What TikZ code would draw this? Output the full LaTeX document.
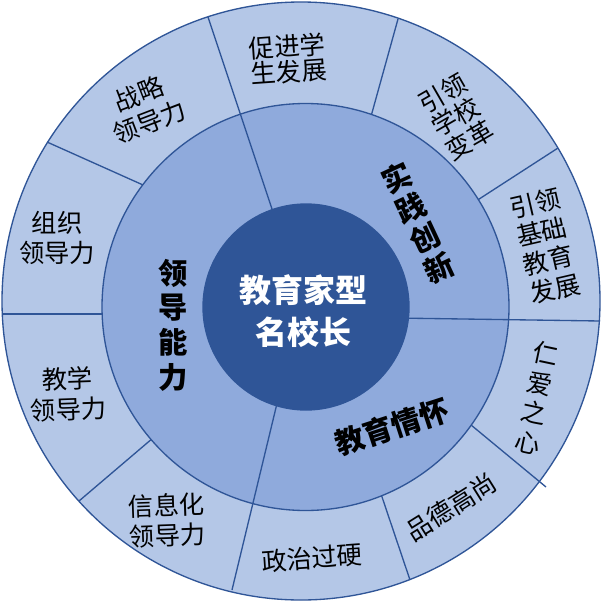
\documentclass[tikz,border=0pt]{standalone}
\usepackage{fontspec}
\usepackage{xcolor}
\usepackage{tikz}
\newfontfamily\cjk{Noto Sans CJK SC}
\definecolor{ringout}{HTML}{B4C7E7}
\definecolor{ringmid}{HTML}{8FAADC}
\definecolor{ringin}{HTML}{2F5597}
\definecolor{edgeblue}{HTML}{2F5597}

\begin{document}
\begin{tikzpicture}[x=0.75pt,y=0.75pt,yscale=-1,xscale=1,
  divline/.style={draw=edgeblue, line width=1pt},
  outtext/.style={inner sep=0pt, align=center, font=\cjk\fontsize{19}{22.5}\selectfont},
  midtext/.style={inner sep=0pt, align=center, font=\cjk\bfseries\fontsize{22}{25}\selectfont},
  centertext/.style={inner sep=0pt, align=center, text=white, font=\cjk\bfseries\fontsize{24}{31.5}\selectfont}]
\useasboundingbox (0,0) rectangle (602,603);

%Outer Ring
\draw [divline, fill=ringout] (301,301) circle (299);

%Straight Lines (outer ring only)
\draw [divline] (398,19) -- (370,120);
\draw [divline] (558,148) -- (473,203);
\draw [divline] (546,487) -- (465,420);
\draw [divline] (410,580) -- (379,488);
\draw [divline] (79,501) -- (160,432);
\draw [divline] (2,314) -- (114,314);
\draw [divline] (47,142) -- (152,189);

%Middle Ring
\draw [divline, fill=ringmid] (305.5,307) circle (203.5);

%Straight Lines (both rings)
\draw [divline] (208,17) -- (275,218);
\draw [divline] (600,321) -- (395,318);
\draw [divline] (232,590) -- (280,391);

%Inner Circle
\draw [divline, fill=ringin] (306,307) circle (103);

% Text Node
\node [outtext, rotate=4, font=\cjk\fontsize{19}{19}\selectfont] (cujin) at (288,59) {促进学\\生发展};
% Text Node
\node [outtext, rotate=30, font=\cjk\fontsize{19}{20.5}\selectfont] (bianhua) at (456,117) {引领\\学校\\变革};
% Text Node
\node [outtext, rotate=13, font=\cjk\fontsize{19}{22}\selectfont] (jichu) at (545,246) {引领\\基础\\教育\\发展};
% Text Node
\node [outtext, rotate=-12] (renai) at (537,398) {仁\\爱\\之\\心};
% Text Node
\node [outtext, rotate=32] (pinde) at (451,507) {品德高尚};
% Text Node
\node [outtext, rotate=4] (zhengzhi) at (312,558) {政治过硬};
% Text Node
\node [outtext, rotate=2] (xinxi) at (167,520) {信息化\\领导力};
% Text Node
\node [outtext, rotate=2, font=\cjk\fontsize{19}{23}\selectfont] (jiaoxue) at (68,394) {教学\\领导力};
% Text Node
\node [outtext, font=\cjk\fontsize{19}{23}\selectfont] (zuzhi) at (57,238) {组织\\领导力};
% Text Node
\node [outtext, rotate=21] (zhanlue) at (144,108) {战略\\领导力};

% Text Node
\node [midtext, rotate=25] (shijian) at (418,223) {实\\践\\创\\新};
% Text Node
\node [midtext, font=\cjk\bfseries\fontsize{22}{26}\selectfont] (lingdao) at (173,325) {领\\导\\能\\力};
% Text Node
\node [midtext, rotate=18] (qinghuai) at (392,427) {教育情怀};

% Text Node
\node [centertext] (mingxz) at (303,311) {教育家型\\名校长};

\end{tikzpicture}
\end{document}
